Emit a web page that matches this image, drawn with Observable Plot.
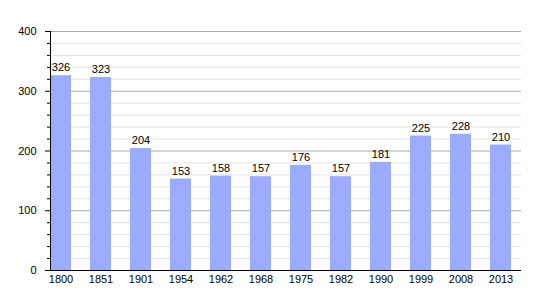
<!DOCTYPE html>
<html>
<head>
<meta charset="utf-8">
<script src="https://cdn.jsdelivr.net/npm/d3@7"></script>
<script src="https://cdn.jsdelivr.net/npm/@observablehq/plot@0.6"></script>
<style>
  body { margin: 0; background: #fff; }
  svg { font-family: "Liberation Sans", Arial, sans-serif; }
</style>
</head>
<body>
<div id="chart"></div>
<script>
const years = ["1800", "1851", "1901", "1954", "1962", "1968", "1975", "1982", "1990", "1999", "2008", "2013"];
const population = [326, 323, 204, 153, 158, 157, 176, 157, 181, 225, 228, 210];
const majorTicks = [0, 100, 200, 300, 400];
const minorTicks = [20, 40, 60, 80, 120, 140, 160, 180, 220, 240, 260, 280, 320, 340, 360, 380];

const data = years.map((y, i) => ({year: y, value: population[i]}));

const chart = Plot.plot({
  width: 550,
  height: 300,
  marginLeft: 50,
  marginRight: 29,
  marginTop: 31,
  marginBottom: 30,
  style: {fontFamily: "Liberation Sans, Arial, sans-serif", fontSize: "11px", color: "#000"},
  x: {domain: years, paddingInner: 0.48, paddingOuter: 0, align: 0, label: null},
  y: {domain: [0, 400], label: null},
  marks: [
    Plot.ruleY(minorTicks, {stroke: "#e4e4e4", strokeWidth: 1}),
    Plot.ruleY(majorTicks.filter(d => d > 0), {stroke: "#aaaaaa", strokeWidth: 1}),
    Plot.barY(data, {x: "year", y: "value", fill: "#9aacfb"}),
    Plot.text(data, {x: "year", y: "value", text: d => String(d.value), dy: -8, fill: "#000", fontSize: 11}),
    Plot.axisY(minorTicks, {tickSize: 3, tickFormat: () => "", stroke: "#000"}),
    Plot.axisY(majorTicks, {tickSize: 5, tickPadding: 9, fontSize: 11, stroke: "#000", fill: "#000"}),
    Plot.axisX({tickSize: 0, tickPadding: 5, fontSize: 11, fill: "#000"}),
    Plot.frame({anchor: "left", stroke: "#000"}),
    Plot.ruleY([0], {stroke: "#000", insetLeft: -5})
  ]
});
document.getElementById("chart").appendChild(chart);
</script>
</body>
</html>
